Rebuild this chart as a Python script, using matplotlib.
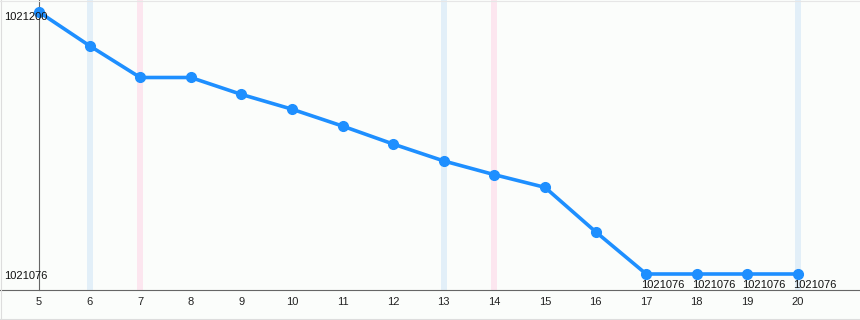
import matplotlib.pyplot as plt
from matplotlib.transforms import offset_copy

plt.rcParams['font.family'] = ['Liberation Sans', 'DejaVu Sans']

# data
days = [5, 6, 7, 8, 9, 10, 11, 12, 13, 14, 15, 16, 17, 18, 19, 20]
values = [1021200, 1021184, 1021169, 1021169, 1021161, 1021154, 1021146,
          1021137.5, 1021129.5, 1021123, 1021117, 1021096,
          1021076, 1021076, 1021076, 1021076]
blue_bands = [6, 13, 20]
pink_bands = [7, 14]
labelled_days = [17, 18, 19, 20]
y_min, y_max = 1021076, 1021200

bg = '#fbfdfb'
fig = plt.figure(figsize=(8.6, 3.2), dpi=100, facecolor=bg)
ax = fig.add_axes([0, 30 / 320, 1, 290 / 320])
ax.set_facecolor(bg)

px_x = (20 - 5) / (798 - 39)
px_y = (y_max - y_min) / (274 - 12)
ax.set_xlim(5 - 39 * px_x, 20 + 62 * px_x)
ax.set_ylim(y_min - 16 * px_y, y_max + 12 * px_y)

for d in blue_bands:
    ax.axvspan(d - 3 * px_x, d + 3 * px_x, color='#e2eff8', lw=0, zorder=0)
for d in pink_bands:
    ax.axvspan(d - 3 * px_x, d + 3 * px_x, color='#fce6ef', lw=0, zorder=0)

ax.plot(days, values, color='#1e8fff', lw=2.6, marker='o', ms=7, zorder=3,
        solid_capstyle='round')

for d in labelled_days:
    v = values[days.index(d)]
    t = offset_copy(ax.transData, fig=fig, x=-5, y=-6, units='dots')
    ax.text(d, v, str(v), transform=t, ha='left', va='top', fontsize=8,
            color='#111111', zorder=4)

# y labels at min and max only, drawn inside the plot
for v, dy in [(y_min, -2), (y_max, -5)]:
    t = offset_copy(ax.get_yaxis_transform(), fig=fig, x=4, y=dy, units='dots')
    ax.text(0, v, str(v), transform=t, ha='left', va='center', fontsize=8,
            color='#111111', zorder=4)
ax.set_yticks([])

ax.set_xticks(days)
ax.set_xticklabels([str(d) for d in days], fontsize=8, color='#222222')
ax.tick_params(axis='x', length=0, pad=5)

for s in ['top', 'right']:
    ax.spines[s].set_visible(False)
ax.spines['left'].set_position(('data', 5))
ax.spines['left'].set_color('#666666')
ax.spines['left'].set_linewidth(0.8)
ax.spines['bottom'].set_color('#666666')
ax.spines['bottom'].set_linewidth(0.8)

# thin outer border like the reference
fig.add_artist(plt.Line2D([0.5 / 860, 0.5 / 860], [0, 1], color='#dddddd', lw=0.8))
fig.add_artist(plt.Line2D([0, 1], [1.5 / 320, 1.5 / 320], color='#dddddd', lw=0.8))
fig.add_artist(plt.Line2D([0, 1], [319.5 / 320, 319.5 / 320], color='#e6e6e6', lw=0.8))

fig.savefig('out.png', dpi=100, facecolor=bg)
